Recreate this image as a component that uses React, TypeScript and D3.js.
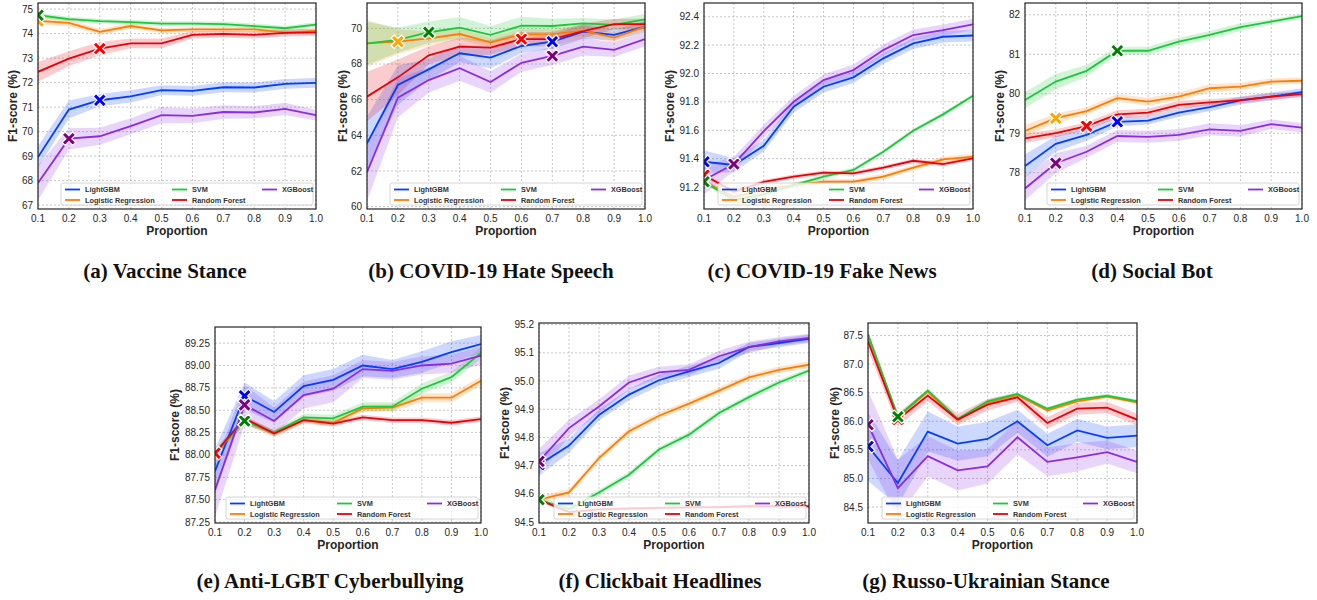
import React from 'react';
import * as d3 from 'd3';

// shared x values and series styling
const proportions = [0.1, 0.2, 0.3, 0.4, 0.5, 0.6, 0.7, 0.8, 0.9, 1.0];
const models = ['LightGBM', 'Logistic Regression', 'SVM', 'Random Forest', 'XGBoost'];
const lineColors = ['#023eff', '#ff7c00', '#1ac938', '#e8000b', '#8b2be2'];
const markerColors = ['#0000ff', '#ffa500', '#008000', '#ff0000', '#800080'];
const xTicks = [0.1, 0.2, 0.3, 0.4, 0.5, 0.6, 0.7, 0.8, 0.9, 1.0];

// rows follow the models order: LightGBM, LR, SVM, RF, XGBoost
// (a) Vaccine Stance
const vaccineMeans = [
  [68.96, 70.9, 71.28, 71.44, 71.69, 71.66, 71.81, 71.8, 71.95, 71.99],
  [74.52, 74.44, 74.07, 74.31, 74.13, 74.17, 74.17, 74.17, 74.05, 74.11],
  [74.75, 74.59, 74.51, 74.47, 74.41, 74.41, 74.39, 74.31, 74.22, 74.37],
  [72.44, 72.98, 73.39, 73.6, 73.6, 73.95, 73.99, 73.95, 74.03, 74.05],
  [67.9, 69.71, 69.81, 70.22, 70.67, 70.64, 70.8, 70.78, 70.93, 70.67],
];
const vaccineSpread = [
  [0.45, 0.37, 0.25, 0.25, 0.2, 0.2, 0.2, 0.2, 0.2, 0.2],
  [0.15, 0.15, 0.12, 0.12, 0.1, 0.1, 0.1, 0.1, 0.1, 0.1],
  [0.1, 0.1, 0.1, 0.1, 0.1, 0.1, 0.1, 0.1, 0.1, 0.1],
  [0.4, 0.3, 0.27, 0.2, 0.2, 0.15, 0.15, 0.15, 0.15, 0.15],
  [0.7, 0.44, 0.35, 0.33, 0.33, 0.3, 0.28, 0.25, 0.25, 0.22],
];
const vaccineBest = [2, 0, 0, 2, 1];
const vaccineTicks = [67, 68, 69, 70, 71, 72, 73, 74, 75];

// (b) COVID-19 Hate Speech
const hateMeans = [
  [63.55, 66.82, 67.7, 68.6, 68.36, 69.01, 69.25, 69.81, 69.63, 70.09],
  [69.16, 69.25, 69.44, 69.68, 69.21, 69.66, 69.68, 69.87, 69.48, 70.09],
  [69.16, 69.35, 69.78, 70.04, 69.63, 70.15, 70.13, 70.28, 70.19, 70.5],
  [66.17, 67.25, 68.49, 68.97, 68.92, 69.4, 69.4, 69.85, 70.24, 70.24],
  [61.93, 66.11, 67.1, 67.76, 66.99, 68.07, 68.45, 68.97, 68.79, 69.4],
];
const hateSpread = [
  [1.5, 1.1, 0.6, 0.5, 0.6, 0.4, 0.4, 0.4, 0.3, 0.3],
  [1.3, 0.7, 0.4, 0.3, 0.3, 0.3, 0.3, 0.3, 0.3, 0.3],
  [1.2, 0.7, 0.6, 0.6, 0.5, 0.5, 0.4, 0.3, 0.3, 0.3],
  [1.4, 1.0, 0.5, 0.5, 0.4, 0.4, 0.4, 0.4, 0.3, 0.3],
  [1.6, 1.1, 0.7, 0.7, 0.6, 0.5, 0.5, 0.5, 0.4, 0.4],
];
const hateBest = [6, 1, 2, 5, 6];
const hateTicks = [60, 62, 64, 66, 68, 70];

// (c) COVID-19 Fake News
const fakeMeans = [
  [91.378, 91.355, 91.491, 91.766, 91.907, 91.973, 92.107, 92.212, 92.259, 92.268],
  [91.24, 91.13, 91.18, 91.214, 91.237, 91.237, 91.273, 91.336, 91.395, 91.414],
  [91.237, 91.108, 91.148, 91.214, 91.273, 91.32, 91.449, 91.597, 91.712, 91.843],
  [91.284, 91.167, 91.237, 91.273, 91.301, 91.296, 91.336, 91.385, 91.362, 91.402],
  [91.249, 91.362, 91.594, 91.801, 91.954, 92.024, 92.165, 92.271, 92.306, 92.346],
];
const fakeSpread = [
  [0.08, 0.05, 0.04, 0.04, 0.04, 0.04, 0.04, 0.04, 0.04, 0.04],
  [0.02, 0.02, 0.02, 0.02, 0.02, 0.02, 0.02, 0.02, 0.02, 0.02],
  [0.015, 0.015, 0.015, 0.015, 0.015, 0.015, 0.015, 0.015, 0.015, 0.015],
  [0.015, 0.015, 0.015, 0.015, 0.015, 0.015, 0.015, 0.015, 0.015, 0.015],
  [0.1, 0.05, 0.045, 0.04, 0.04, 0.04, 0.04, 0.04, 0.04, 0.04],
];
const fakeBest = [0, 0, 0, 0, 1];
const fakeTicks = [91.2, 91.4, 91.6, 91.8, 92.0, 92.2, 92.4];

// (d) Social Bot
const botMeans = [
  [78.17, 78.73, 78.96, 79.29, 79.32, 79.52, 79.66, 79.83, 79.93, 80.04],
  [79.06, 79.38, 79.56, 79.89, 79.8, 79.93, 80.14, 80.18, 80.31, 80.33],
  [79.84, 80.31, 80.58, 81.09, 81.09, 81.32, 81.49, 81.69, 81.83, 81.97],
  [78.87, 79.0, 79.18, 79.48, 79.52, 79.72, 79.78, 79.84, 79.93, 79.99],
  [77.6, 78.24, 78.53, 78.93, 78.91, 78.96, 79.1, 79.06, 79.23, 79.14],
];
const botSpread = [
  [0.3, 0.2, 0.15, 0.12, 0.1, 0.1, 0.1, 0.1, 0.1, 0.1],
  [0.15, 0.12, 0.1, 0.1, 0.1, 0.1, 0.1, 0.1, 0.08, 0.08],
  [0.2, 0.2, 0.15, 0.1, 0.1, 0.1, 0.1, 0.1, 0.06, 0.06],
  [0.12, 0.1, 0.1, 0.1, 0.1, 0.1, 0.08, 0.08, 0.08, 0.08],
  [0.3, 0.25, 0.15, 0.15, 0.15, 0.15, 0.15, 0.15, 0.12, 0.12],
];
const botBest = [3, 1, 3, 2, 1];
const botTicks = [78, 79, 80, 81, 82];

// (e) Anti-LGBT Cyberbullying
const lgbtMeans = [
  [87.82, 88.66, 88.48, 88.77, 88.84, 89.0, 88.96, 89.04, 89.15, 89.24],
  [88.02, 88.38, 88.24, 88.39, 88.36, 88.52, 88.53, 88.64, 88.64, 88.83],
  [88.02, 88.38, 88.25, 88.42, 88.41, 88.54, 88.54, 88.74, 88.87, 89.14],
  [88.02, 88.41, 88.24, 88.39, 88.35, 88.42, 88.39, 88.39, 88.36, 88.4],
  [87.61, 88.56, 88.38, 88.67, 88.74, 88.96, 88.94, 89.0, 89.02, 89.11],
];
const lgbtSpread = [
  [0.25, 0.15, 0.12, 0.12, 0.12, 0.12, 0.1, 0.12, 0.12, 0.1],
  [0.04, 0.04, 0.04, 0.04, 0.04, 0.04, 0.04, 0.05, 0.05, 0.05],
  [0.04, 0.04, 0.03, 0.04, 0.04, 0.05, 0.05, 0.06, 0.06, 0.06],
  [0.03, 0.03, 0.03, 0.03, 0.03, 0.03, 0.03, 0.03, 0.03, 0.03],
  [0.3, 0.22, 0.15, 0.15, 0.15, 0.1, 0.1, 0.1, 0.1, 0.1],
];
const lgbtBest = [1, 1, 1, 0, 1];
const lgbtTicks = [87.25, 87.5, 87.75, 88.0, 88.25, 88.5, 88.75, 89.0, 89.25];

// (f) Clickbait Headlines
const clickMeans = [
  [94.703, 94.771, 94.88, 94.952, 95.003, 95.034, 95.064, 95.121, 95.135, 95.15],
  [94.579, 94.605, 94.727, 94.822, 94.877, 94.92, 94.966, 95.013, 95.04, 95.058],
  [94.579, 94.546, 94.605, 94.668, 94.757, 94.81, 94.887, 94.943, 94.995, 95.037],
  [94.579, 94.535, 94.545, 94.548, 94.55, 94.552, 94.553, 94.556, 94.556, 94.556],
  [94.715, 94.833, 94.91, 94.995, 95.031, 95.04, 95.088, 95.12, 95.141, 95.153],
];
const clickSpread = [
  [0.04, 0.025, 0.02, 0.02, 0.02, 0.02, 0.02, 0.015, 0.015, 0.015],
  [0.012, 0.012, 0.012, 0.012, 0.012, 0.012, 0.012, 0.012, 0.012, 0.012],
  [0.01, 0.01, 0.01, 0.01, 0.01, 0.01, 0.01, 0.01, 0.01, 0.01],
  [0.005, 0.005, 0.005, 0.005, 0.005, 0.005, 0.005, 0.005, 0.005, 0.005],
  [0.045, 0.03, 0.025, 0.025, 0.02, 0.02, 0.02, 0.02, 0.015, 0.015],
];
const clickBest = [0, 0, 0, 0, 0];
const clickTicks = [94.5, 94.6, 94.7, 94.8, 94.9, 95.0, 95.1, 95.2];

// (g) Russo-Ukrainian Stance
const russoMeans = [
  [85.56, 84.92, 85.82, 85.61, 85.69, 86.0, 85.58, 85.84, 85.71, 85.75],
  [87.5, 86.07, 86.52, 86.02, 86.32, 86.46, 86.19, 86.35, 86.43, 86.33],
  [87.52, 86.08, 86.54, 86.04, 86.35, 86.48, 86.22, 86.38, 86.45, 86.35],
  [87.4, 86.03, 86.45, 86.03, 86.29, 86.42, 85.97, 86.22, 86.24, 86.03],
  [85.94, 84.83, 85.39, 85.14, 85.21, 85.72, 85.29, 85.37, 85.46, 85.29],
];
const russoSpread = [
  [0.6, 0.4, 0.35, 0.3, 0.3, 0.2, 0.2, 0.2, 0.2, 0.2],
  [0.03, 0.03, 0.03, 0.03, 0.03, 0.03, 0.03, 0.03, 0.03, 0.03],
  [0.03, 0.03, 0.03, 0.03, 0.03, 0.03, 0.03, 0.03, 0.03, 0.03],
  [0.15, 0.12, 0.1, 0.1, 0.1, 0.08, 0.1, 0.1, 0.1, 0.1],
  [0.6, 0.5, 0.35, 0.35, 0.3, 0.3, 0.25, 0.25, 0.2, 0.2],
];
const russoBest = [0, 1, 1, 1, 0];
const russoTicks = [84.5, 85.0, 85.5, 86.0, 86.5, 87.0, 87.5];

interface PanelCfg {
  id: string;
  caption: string;
  means: number[][];
  spread: number[][];
  best: number[];
  ticks: number[];
  fmt: string;
  domain: [number, number];
  left: number;
  top: number;
  width: number;
  height: number;
  ylabelOffset: number;
  captionX: number;
  captionY: number;
}

const panels: PanelCfg[] = [
  { id: 'a', caption: '(a) Vaccine Stance', means: vaccineMeans, spread: vaccineSpread, best: vaccineBest, ticks: vaccineTicks, fmt: 'd', domain: [66.84, 75.25], left: 38, top: 3, width: 278, height: 206, ylabelOffset: 25, captionX: 165, captionY: 278 },
  { id: 'b', caption: '(b) COVID-19 Hate Speech', means: hateMeans, spread: hateSpread, best: hateBest, ticks: hateTicks, fmt: 'd', domain: [59.87, 71.42], left: 367, top: 3, width: 278, height: 206, ylabelOffset: 24, captionX: 491, captionY: 278 },
  { id: 'c', caption: '(c) COVID-19 Fake News', means: fakeMeans, spread: fakeSpread, best: fakeBest, ticks: fakeTicks, fmt: '.1f', domain: [91.045, 92.497], left: 704, top: 3, width: 269, height: 206, ylabelOffset: 34, captionX: 822, captionY: 278 },
  { id: 'd', caption: '(d) Social Bot', means: botMeans, spread: botSpread, best: botBest, ticks: botTicks, fmt: 'd', domain: [77.08, 82.3], left: 1025, top: 3, width: 277, height: 206, ylabelOffset: 25, captionX: 1152, captionY: 278 },
  { id: 'e', caption: '(e) Anti-LGBT Cyberbullying', means: lgbtMeans, spread: lgbtSpread, best: lgbtBest, ticks: lgbtTicks, fmt: '.2f', domain: [87.24, 89.43], left: 215, top: 327, width: 266, height: 196, ylabelOffset: 40, captionX: 330, captionY: 588 },
  { id: 'f', caption: '(f) Clickbait Headlines', means: clickMeans, spread: clickSpread, best: clickBest, ticks: clickTicks, fmt: '.1f', domain: [94.4965, 95.206], left: 539, top: 323, width: 270, height: 200, ylabelOffset: 34, captionX: 660, captionY: 588 },
  { id: 'g', caption: '(g) Russo-Ukrainian Stance', means: russoMeans, spread: russoSpread, best: russoBest, ticks: russoTicks, fmt: '.1f', domain: [84.22, 87.72], left: 868, top: 323, width: 269, height: 200, ylabelOffset: 33, captionX: 986, captionY: 588 },
];

// filled "X" marker, drawn as a rotated plus
const xMarkerPath = (() => {
  const L = 7.4;
  const t = 2.1;
  const pts = [
    [t, L], [t, t], [L, t], [L, -t], [t, -t], [t, -L],
    [-t, -L], [-t, -t], [-L, -t], [-L, t], [-t, t], [-t, L],
  ];
  const c = Math.SQRT1_2;
  return 'M' + pts.map(([x, y]) => `${(x * c - y * c).toFixed(2)},${(x * c + y * c).toFixed(2)}`).join('L') + 'Z';
})();

const markerOrder = [0, 1, 3, 4, 2];
const sans = '"Liberation Sans", Arial, sans-serif';

const Panel: React.FC<{ cfg: PanelCfg }> = ({ cfg }) => {
  const x = d3.scaleLinear().domain([0.1, 1.0]).range([cfg.left, cfg.left + cfg.width]);
  const y = d3.scaleLinear().domain(cfg.domain).range([cfg.top + cfg.height, cfg.top]);
  const bottom = cfg.top + cfg.height;
  const right = cfg.left + cfg.width;
  const fmt = d3.format(cfg.fmt);
  const clipId = `clip-${cfg.id}`;

  const line = d3.line<number>()
    .x((_, i) => x(proportions[i]))
    .y(d => y(d));

  const band = (row: number) => d3.area<number>()
    .x((_, i) => x(proportions[i]))
    .y0((d, i) => y(d - cfg.spread[row][i]))
    .y1((d, i) => y(d + cfg.spread[row][i]));

  const legW = 252;
  const legH = 22;
  const legX = right - 3 - legW;
  const legY = bottom - 4 - legH;
  const legendItems = [
    { m: 0, dx: 4, dy: 6.5 },
    { m: 1, dx: 4, dy: 17 },
    { m: 2, dx: 111, dy: 6.5 },
    { m: 3, dx: 111, dy: 17 },
    { m: 4, dx: 201, dy: 6.5 },
  ];

  return (
    <g>
      <defs>
        <clipPath id={clipId}>
          <rect x={cfg.left} y={cfg.top} width={cfg.width} height={cfg.height} />
        </clipPath>
      </defs>
      <rect x={cfg.left} y={cfg.top} width={cfg.width} height={cfg.height} fill="#fff" />
      {/* grid */}
      <g stroke="#b8b8b8" strokeWidth={0.8} strokeDasharray="2,2">
        {xTicks.map(t => (
          <line key={`gx${t}`} x1={x(t)} x2={x(t)} y1={cfg.top} y2={bottom} />
        ))}
        {cfg.ticks.map(t => (
          <line key={`gy${t}`} x1={cfg.left} x2={right} y1={y(t)} y2={y(t)} />
        ))}
      </g>
      <g clipPath={`url(#${clipId})`}>
        {cfg.means.map((row, i) => (
          <path key={`b${i}`} d={band(i)(row) || ''} fill={lineColors[i]} fillOpacity={0.2} stroke="none" />
        ))}
        {cfg.means.map((row, i) => (
          <path key={`l${i}`} d={line(row) || ''} fill="none" stroke={lineColors[i]} strokeWidth={1.8} />
        ))}
        {markerOrder.map(i => {
          const k = cfg.best[i];
          return (
            <path
              key={`m${i}`}
              d={xMarkerPath}
              transform={`translate(${x(proportions[k])},${y(cfg.means[i][k])})`}
              fill={markerColors[i]}
              stroke="#fff"
              strokeWidth={1.2}
            />
          );
        })}
      </g>
      {/* legend */}
      <g>
        <rect x={legX} y={legY} width={legW} height={legH} rx={2} fill="#fff" fillOpacity={0.8} stroke="#cccccc" strokeWidth={0.8} />
        {legendItems.map(it => (
          <g key={`lg${it.m}`}>
            <line x1={legX + it.dx} x2={legX + it.dx + 15} y1={legY + it.dy} y2={legY + it.dy} stroke={lineColors[it.m]} strokeWidth={1.8} />
            <text x={legX + it.dx + 20} y={legY + it.dy} dy="0.35em" fontSize={7.3} fontWeight="bold" fontFamily={sans} fill="#333">
              {models[it.m]}
            </text>
          </g>
        ))}
      </g>
      {/* frame */}
      <rect x={cfg.left} y={cfg.top} width={cfg.width} height={cfg.height} fill="none" stroke="#262626" strokeWidth={1.2} />
      {/* tick labels */}
      <g fontFamily={sans} fontSize={10} fill="#262626">
        {xTicks.map(t => (
          <text key={`tx${t}`} x={x(t)} y={bottom + 13} textAnchor="middle">{d3.format('.1f')(t)}</text>
        ))}
        {cfg.ticks.map(t => (
          <text key={`ty${t}`} x={cfg.left - 5} y={y(t)} dy="0.35em" textAnchor="end">{fmt(t)}</text>
        ))}
      </g>
      <text x={(cfg.left + right) / 2} y={bottom + 26} textAnchor="middle" fontFamily={sans} fontWeight="bold" fontSize={12} fill="#262626">
        Proportion
      </text>
      <text
        transform={`translate(${cfg.left - cfg.ylabelOffset},${(cfg.top + bottom) / 2}) rotate(-90)`}
        textAnchor="middle"
        dy="0.35em"
        fontFamily={sans}
        fontWeight="bold"
        fontSize={12}
        fill="#262626"
      >
        F1-score (%)
      </text>
      <text x={cfg.captionX} y={cfg.captionY} textAnchor="middle" fontFamily='"Liberation Serif", "DejaVu Serif", serif' fontWeight="bold" fontSize={21} fill="#111">
        {cfg.caption}
      </text>
    </g>
  );
};

export default function App() {
  return (
    <svg width={1317} height={600} style={{ position: 'absolute', left: 0, top: 0, background: '#fff' }}>
      <rect width={1317} height={600} fill="#fff" />
      {panels.map(p => (
        <Panel key={p.id} cfg={p} />
      ))}
    </svg>
  );
}
